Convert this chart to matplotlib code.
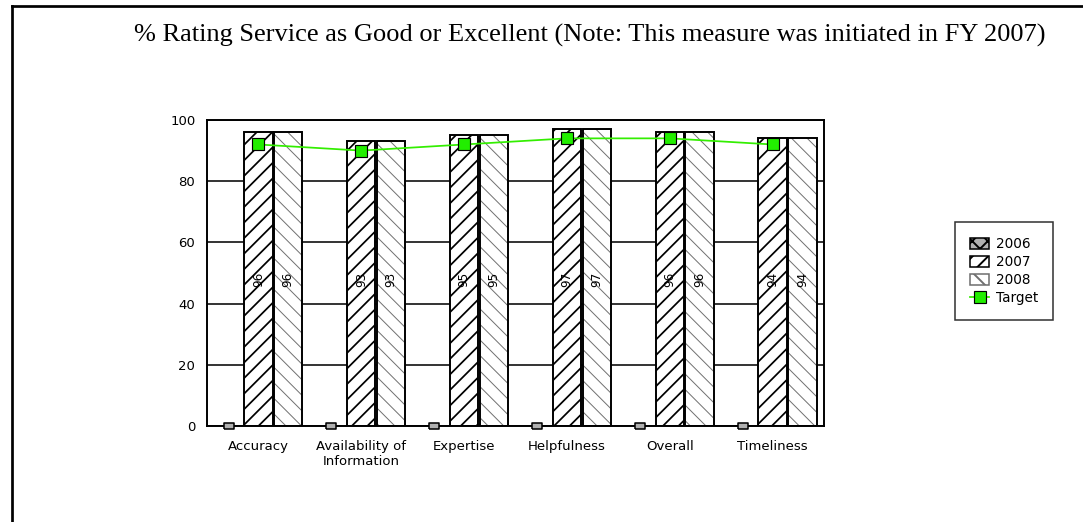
import numpy as np
import matplotlib
matplotlib.use('Agg')
import matplotlib.pyplot as plt
from matplotlib.patches import Patch
from matplotlib.lines import Line2D

# chart data
categories = ['Accuracy', 'Availability of\nInformation', 'Expertise',
              'Helpfulness', 'Overall', 'Timeliness']
vals_2006 = [0, 0, 0, 0, 0, 0]
vals_2007 = [96, 93, 95, 97, 96, 94]
vals_2008 = [96, 93, 95, 97, 96, 94]
target = [92, 90, 92, 94, 94, 92]

DPI = 140
fig = plt.figure(figsize=(1083 / DPI, 522 / DPI), dpi=DPI)
ax = fig.add_axes([207 / 1083, 96 / 522, 617 / 1083, 306 / 522])

x = np.arange(len(categories))
off = 0.29
w = 0.275

ax.set_axisbelow(True)
ax.yaxis.grid(True, color='black', linewidth=0.8)

# 2007 bars, heavy hatch
b07 = ax.bar(x, vals_2007, w, facecolor='white', edgecolor='black',
             hatch='///', linewidth=1.0, zorder=2)
for p in b07:
    if hasattr(p, 'set_hatch_linewidth'):
        p.set_hatch_linewidth(0.9)

# 2008 bars, light hatch (hatch drawn grey, outline overlaid in black)
b08 = ax.bar(x + off, vals_2008, w, facecolor='white', edgecolor='#707070',
             hatch='\\\\\\', linewidth=0, zorder=2)
for p in b08:
    if hasattr(p, 'set_hatch_linewidth'):
        p.set_hatch_linewidth(0.5)
ax.bar(x + off, vals_2008, w, facecolor='none', edgecolor='black',
       linewidth=1.0, zorder=3)

# 2006 values are zero -> tiny boxes on the baseline
box = [(-1, -0.5), (1, -0.5), (1, 0.5), (-1, 0.5), (-1, -0.5)]
ax.plot(x - off, vals_2006, linestyle='none', marker=box, markersize=5.2,
        markerfacecolor='#b0b0b0', markeredgecolor='black',
        markeredgewidth=0.8, clip_on=False, zorder=4)

# value labels inside bars
for xi, v in zip(x, vals_2007):
    ax.text(xi, 48, str(v), rotation=90, ha='center', va='center',
            fontsize=6.2, zorder=5)
for xi, v in zip(x + off, vals_2008):
    ax.text(xi, 48, str(v), rotation=90, ha='center', va='center',
            fontsize=6.2, zorder=5)

# target line
ax.plot(x, target, color='#33ee00', linewidth=0.9, marker='s',
        markersize=6.2, markerfacecolor='#22ee00', markeredgecolor='black',
        markeredgewidth=0.6, zorder=6)

ax.set_xlim(-0.5, len(categories) - 0.5)
ax.set_ylim(0, 100)
ax.set_yticks([0, 20, 40, 60, 80, 100])
ax.set_xticks(x)
ax.set_xticklabels(categories, fontsize=6.8, linespacing=1.2)
ax.tick_params(axis='both', length=0, labelsize=6.8)
ax.tick_params(axis='y', pad=6)
ax.tick_params(axis='x', pad=7)
for s in ax.spines.values():
    s.set_linewidth(1.0)

# legend
handles = [
    Patch(facecolor='#b0b0b0', edgecolor='black', hatch='xxx', linewidth=0.8),
    Patch(facecolor='white', edgecolor='black', hatch='///', linewidth=0.8),
    Patch(facecolor='white', edgecolor='#707070', hatch='\\\\\\', linewidth=0.8),
    Line2D([], [], color='#33ee00', linewidth=0.9, marker='s', markersize=6.2,
           markerfacecolor='#22ee00', markeredgecolor='black',
           markeredgewidth=0.6),
]
leg = fig.legend(handles, ['2006', '2007', '2008', 'Target'],
                 loc='upper left', bbox_to_anchor=(955 / 1083, 1 - 222 / 522),
                 fontsize=7.0, frameon=True, fancybox=False, borderpad=1.1,
                 handlelength=1.4, handleheight=0.9, handletextpad=0.5,
                 labelspacing=0.3, borderaxespad=0)
leg.get_frame().set_edgecolor('black')
leg.get_frame().set_linewidth(0.8)

# title
fig.text(590 / 1083, 1 - 35 / 522,
         '% Rating Service as Good or Excellent (Note: This measure was initiated in FY 2007)',
         ha='center', va='center', fontsize=13.6, family='Liberation Serif')

# frame lines on left and top
fig.add_artist(Line2D([12 / 1083, 12 / 1083], [0, 1 - 6 / 522], color='black',
                      linewidth=1.4, transform=fig.transFigure))
fig.add_artist(Line2D([12 / 1083, 1], [1 - 6 / 522, 1 - 6 / 522], color='black',
                      linewidth=1.4, transform=fig.transFigure))

fig.savefig('out.png', dpi=DPI)
